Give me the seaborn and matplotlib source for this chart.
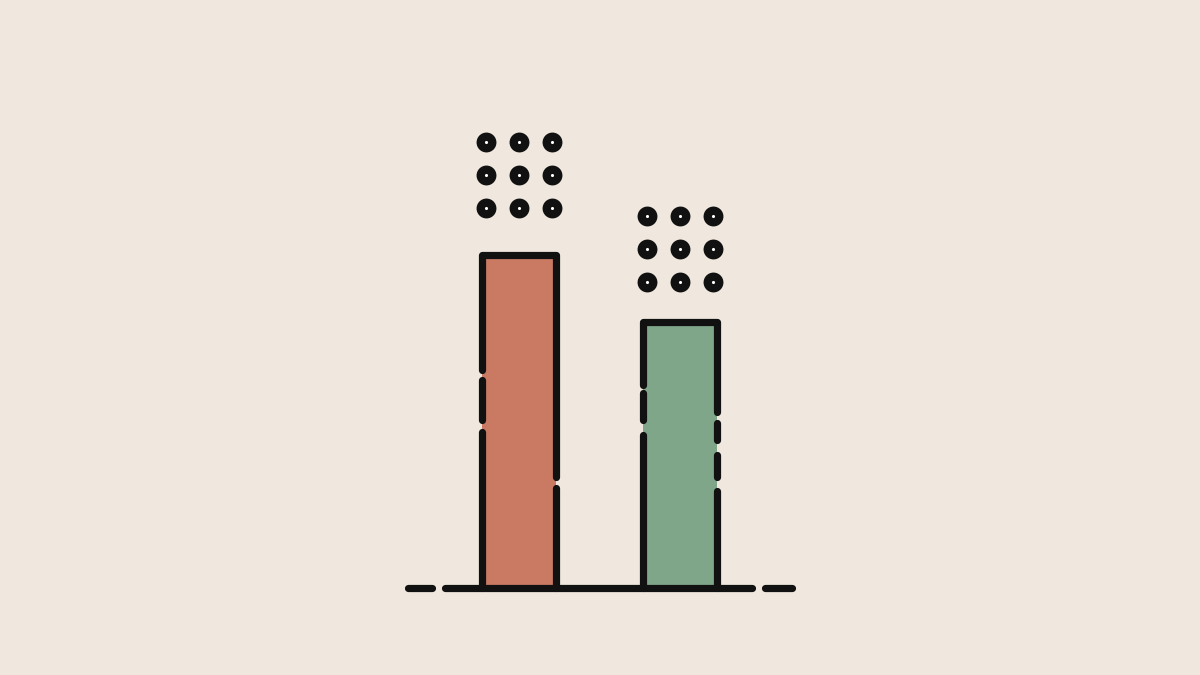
import matplotlib
matplotlib.use('Agg')
import matplotlib.pyplot as plt
import seaborn as sns
import numpy as np

# Data
categories = ['A', 'B']
values = [5, 4]
dot_counts = [9, 9]
bar_colors = ['#CA7A62', '#80A689']

bg = '#F0E8DE'
ink = '#111111'
bar_w = 0.455
lw = 5.2

sns.set_theme(style='white')
plt.rcParams['font.family'] = ['DejaVu Sans']

fig = plt.figure(figsize=(12, 6.75), dpi=100, facecolor=bg)
ax = fig.add_axes([0, 0, 1, 1])
ax.set_facecolor(bg)

sns.barplot(x=categories, y=values, hue=categories, palette=bar_colors,
            width=bar_w, legend=False, ax=ax, linewidth=0, saturation=1)

# gaps in the side outlines, measured down from the bar top
side_gaps = [
    {'left': [(1.73, 1.88), (2.48, 2.66)], 'right': [(3.33, 3.50)]},
    {'left': [(0.95, 1.07), (1.47, 1.70)], 'right': [(1.35, 1.52), (1.77, 2.0), (2.33, 2.55)]},
]


def side_segments(top, gaps):
    # split a vertical side from top down to 0 into pieces between gaps
    segs = []
    start = top
    for g0, g1 in gaps:
        segs.append((start, top - g0))
        start = top - g1
    segs.append((start, 0))
    return segs


line_kw = dict(color=ink, lw=lw, solid_capstyle='round', solid_joinstyle='round', zorder=3)

for i, v in enumerate(values):
    x0 = i - bar_w / 2
    x1 = i + bar_w / 2
    left = side_segments(v, side_gaps[i]['left'])
    right = side_segments(v, side_gaps[i]['right'])
    # first pieces joined with the top edge
    ax.plot([x0, x0, x1, x1], [left[0][1], v, v, right[0][1]], **line_kw)
    for a, b in left[1:]:
        ax.plot([x0, x0], [a, b], **line_kw)
    for a, b in right[1:]:
        ax.plot([x1, x1], [a, b], **line_kw)

# dot grids above bars
dot_lift = [0.7, 0.59]
for i, (v, n) in enumerate(zip(values, dot_counts)):
    cols = 3
    rows = int(np.ceil(n / cols))
    xs, ys = [], []
    for k in range(n):
        r, c = divmod(k, cols)
        xs.append(i + (c - 1) * 0.205)
        ys.append(v + dot_lift[i] + r * 0.5)
    ax.scatter(xs, ys, s=205, color=ink, zorder=4, linewidths=0)
    ax.scatter(xs, ys, s=5, color='white', zorder=5, linewidths=0)

# broken baseline
base_pieces = [(-0.689, -0.54), (-0.46, 1.447), (1.528, 1.696)]
for a, b in base_pieces:
    ax.plot([a, b], [0, 0], **line_kw)

ax.set_xlim(-3.224, 4.23)
ax.set_ylim(-1.306, 8.83)
ax.axis('off')

fig.savefig('out.png', dpi=100, facecolor=bg)
